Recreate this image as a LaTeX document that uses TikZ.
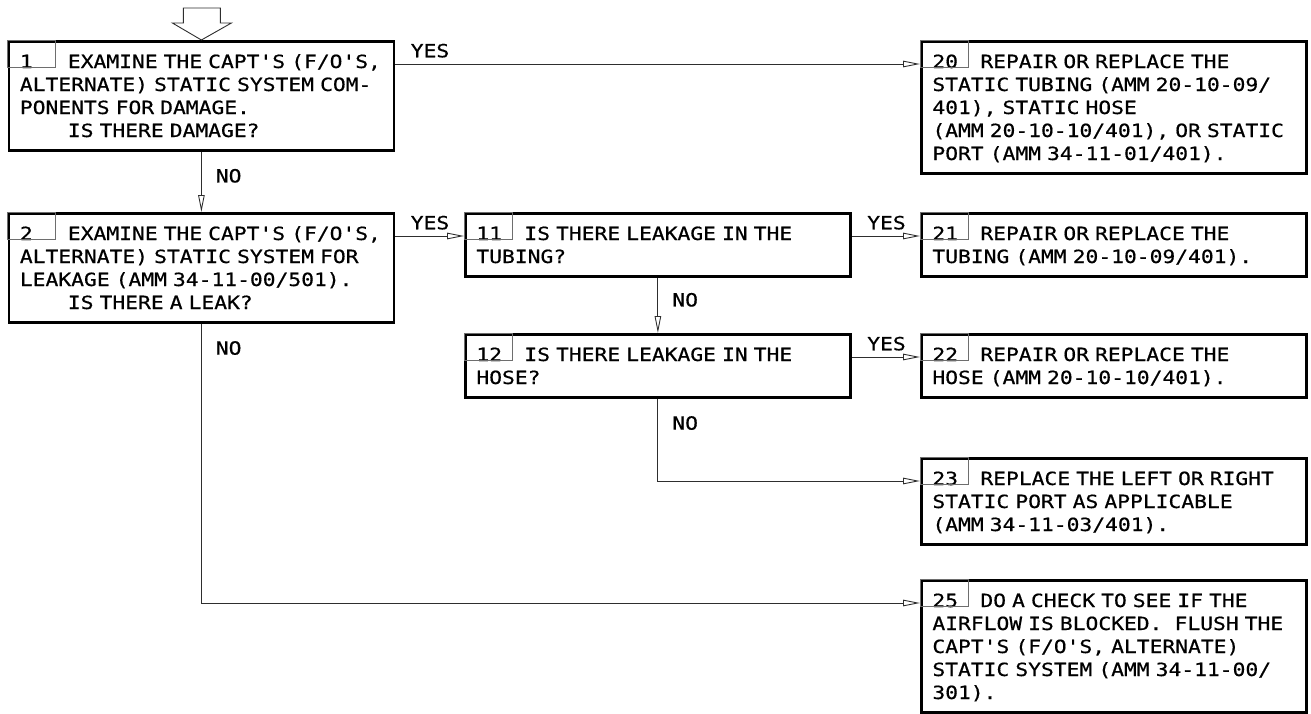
\documentclass[tikz,border=0pt]{standalone}
\usepackage{fontspec}
\usepackage{tikz}
\usetikzlibrary{arrows.meta, positioning}
\definecolor{lineGray}{HTML}{2E2E2E}
\definecolor{cellGray}{HTML}{6E6E6E}
\newfontfamily\stepFam[FakeStretch=1.17, FakeBold=0.6]{DejaVu Sans Mono}
\newcommand{\stepFont}{\stepFam\fontsize{18.2}{23}\selectfont\frenchspacing}
\newcommand{\stepNo}[1]{\makebox[48pt][l]{#1}}
\newcommand{\numCell}[1]{\draw[cellGray, line width=0.9pt] (#1.north west) rectangle ++(48,27);}
\hyphenpenalty=10000

\begin{document}
\begin{tikzpicture}[x=1pt, y=-1pt,
    stepbox/.style={draw, line width=2.8pt, anchor=north west, text width=363pt,
      inner xsep=11pt, inner ysep=8.5pt, align=left, font=\stepFont,
      execute at begin node=\rule{0pt}{18.1pt}, execute at end node=\rule[-4.8pt]{0pt}{4.8pt}},
    conn/.style={lineGray, line width=0.9pt, -{Triangle[open, length=17pt, width=6.5pt]}},
    lbl/.style={font=\stepFont, inner sep=0pt, text=black}]
  \useasboundingbox (0,0) rectangle (1311,713);

  \node[stepbox] (b1) at (7.5,40) {\stepNo{1}EXAMINE THE CAPT'S (F/O'S,\\ALTERNATE) STATIC SYSTEM COM-\\PONENTS FOR DAMAGE.\\\hspace*{48pt}IS THERE DAMAGE?};
  \node[stepbox] (b2) at (7.5,212) {\stepNo{2}EXAMINE THE CAPT'S (F/O'S,\\ALTERNATE) STATIC SYSTEM FOR\\LEAKAGE (AMM 34-11-00/501).\\\hspace*{48pt}IS THERE A LEAK?};
  \node[stepbox] (b11) at (464,212) {\stepNo{11}IS THERE LEAKAGE IN THE\\TUBING?};
  \node[stepbox] (b12) at (464,333) {\stepNo{12}IS THERE LEAKAGE IN THE\\HOSE?};
  \node[stepbox] (b20) at (920,40) {\stepNo{20}REPAIR OR REPLACE THE\\STATIC TUBING (AMM 20-10-09/\\401), STATIC HOSE\\(AMM 20-10-10/401), OR STATIC\\PORT (AMM 34-11-01/401).};
  \node[stepbox] (b21) at (920,212) {\stepNo{21}REPAIR OR REPLACE THE\\TUBING (AMM 20-10-09/401).};
  \node[stepbox] (b22) at (920,333) {\stepNo{22}REPAIR OR REPLACE THE\\HOSE (AMM 20-10-10/401).};
  \node[stepbox] (b23) at (920,457) {\stepNo{23}REPLACE THE LEFT OR RIGHT\\STATIC PORT AS APPLICABLE\\(AMM 34-11-03/401).};
  \node[stepbox] (b25) at (920,579) {\stepNo{25}DO A CHECK TO SEE IF THE\\AIRFLOW IS BLOCKED.\ \ FLUSH THE\\CAPT'S (F/O'S, ALTERNATE)\\STATIC SYSTEM (AMM 34-11-00/\\301).};

  \numCell{b1} \numCell{b2} \numCell{b11} \numCell{b12}
  \numCell{b20} \numCell{b21} \numCell{b22} \numCell{b23} \numCell{b25}

  \draw[lineGray, line width=0.9pt, fill=white] (b1.north) -- ++(-29,-17) -- ++(11,0) -- ++(0,-15)
    -- ++(37,0) -- ++(0,15) -- ++(11,0) -- cycle;

  \draw[conn] ([yshift=-24pt]b1.north east) -- node[lbl, pos=0, anchor=south west, xshift=15pt, yshift=6pt] {YES} ([yshift=-24pt]b20.north west);
  \draw[conn] (b1.south) -- node[lbl, pos=0.4, anchor=west, xshift=14pt] {NO} (b2.north);
  \draw[conn] ([yshift=-24pt]b2.north east) -- node[lbl, pos=0, anchor=south west, xshift=15pt, yshift=6pt] {YES} ([yshift=-24pt]b11.north west);
  \draw[conn] ([yshift=-24pt]b11.north east) -- node[lbl, pos=0, anchor=south west, xshift=15pt, yshift=6pt] {YES} ([yshift=-24pt]b21.north west);
  \draw[conn] (b11.south) -- node[lbl, pos=0.4, anchor=west, xshift=14pt] {NO} (b12.north);
  \draw[conn] ([yshift=-24pt]b12.north east) -- node[lbl, pos=0, anchor=south west, xshift=15pt, yshift=6pt] {YES} ([yshift=-24pt]b22.north west);
  \draw[conn] (b12.south) |- node[lbl, pos=0, anchor=north west, xshift=14pt, yshift=-17pt] {NO} ([yshift=-24pt]b23.north west);
  \draw[conn] (b2.south) |- node[lbl, pos=0, anchor=north west, xshift=14pt, yshift=-17pt] {NO} ([yshift=-24pt]b25.north west);
\end{tikzpicture}
\end{document}
